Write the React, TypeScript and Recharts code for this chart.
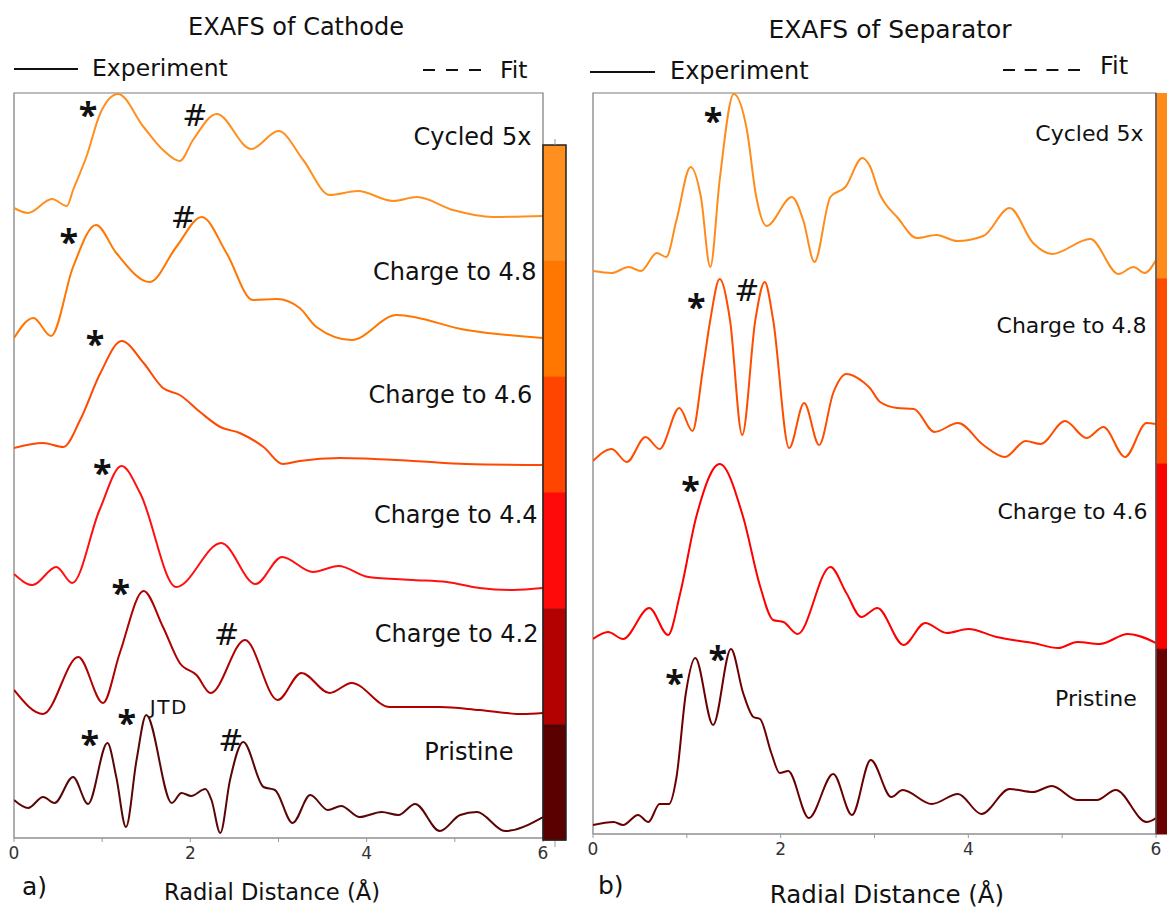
import React from 'react';
import { LineChart, Line, XAxis, YAxis, ReferenceArea, ReferenceDot } from 'recharts';

type Pt = [number, number];

const FONT = "'DejaVu Sans', 'Open Sans', sans-serif";
const STAR_FONT = "'Open Sans', 'DejaVu Sans', sans-serif";

// |chi(R)| curves, stacked with offsets (a.u.), R in Å
const cathodeCycled5x: Pt[] = [
  [0, 6.30], [0.16, 6.25], [0.43, 6.39], [0.60, 6.32], [0.67, 6.48], [0.82, 6.81], [0.98, 7.25],
  [1.18, 7.44], [1.47, 7.11], [1.69, 6.88], [1.88, 6.77], [2.03, 6.98], [2.30, 7.24], [2.69, 6.89],
  [3.00, 7.07], [3.28, 6.78], [3.58, 6.43], [3.90, 6.47], [4.30, 6.37], [4.57, 6.41], [4.98, 6.28],
  [5.43, 6.21], [6.00, 6.22],
];
const cathodeCharge48: Pt[] = [
  [0, 5.00], [0.22, 5.20], [0.42, 5.02], [0.67, 5.71], [0.93, 6.13], [1.16, 5.85], [1.54, 5.56],
  [1.84, 5.91], [2.13, 6.21], [2.41, 5.85], [2.71, 5.38], [2.98, 5.39], [3.24, 5.30], [3.43, 5.11],
  [3.83, 4.98], [4.34, 5.23], [5.13, 5.08], [6.00, 5.00],
];
const cathodeCharge46: Pt[] = [
  [0, 3.90], [0.33, 3.95], [0.56, 3.91], [0.75, 4.18], [0.98, 4.65], [1.22, 4.97], [1.47, 4.75],
  [1.69, 4.50], [1.88, 4.43], [2.11, 4.26], [2.34, 4.11], [2.56, 4.05], [2.83, 3.91], [3.05, 3.74],
  [3.24, 3.77], [3.70, 3.80], [4.53, 3.77], [5.13, 3.74], [6.00, 3.73],
];
const cathodeCharge44: Pt[] = [
  [0, 2.64], [0.21, 2.53], [0.48, 2.71], [0.66, 2.55], [0.97, 3.28], [1.22, 3.72], [1.43, 3.45],
  [1.84, 2.51], [2.35, 2.95], [2.74, 2.54], [3.04, 2.81], [3.39, 2.66], [3.68, 2.72], [4.02, 2.61],
  [4.53, 2.58], [4.91, 2.56], [5.28, 2.50], [5.66, 2.48], [6.00, 2.50],
];
const cathodeCharge42: Pt[] = [
  [0, 1.48], [0.33, 1.24], [0.73, 1.81], [1.01, 1.35], [1.20, 1.85], [1.47, 2.47], [1.69, 2.11],
  [1.88, 1.75], [2.07, 1.63], [2.23, 1.45], [2.62, 1.98], [2.99, 1.38], [3.26, 1.65], [3.58, 1.45],
  [3.83, 1.55], [4.26, 1.31], [4.83, 1.31], [5.28, 1.28], [5.77, 1.24], [6.00, 1.25],
];
const cathodePristine: Pt[] = [
  [0, 0.38], [0.16, 0.30], [0.33, 0.41], [0.46, 0.35], [0.67, 0.61], [0.84, 0.34], [1.06, 0.95],
  [1.16, 0.61], [1.27, 0.11], [1.39, 0.78], [1.50, 1.23], [1.79, 0.35], [1.90, 0.45], [2.01, 0.42],
  [2.17, 0.49], [2.24, 0.38], [2.34, 0.05], [2.45, 0.58], [2.60, 0.96], [2.83, 0.51], [2.96, 0.48],
  [3.16, 0.15], [3.36, 0.43], [3.56, 0.28], [3.71, 0.32], [3.92, 0.21], [4.17, 0.26], [4.36, 0.23],
  [4.55, 0.34], [4.83, 0.07], [5.06, 0.23], [5.25, 0.26], [5.57, 0.07], [6.00, 0.21],
];

const separatorCycled5x: Pt[] = [
  [0, 5.63], [0.20, 5.61], [0.38, 5.67], [0.51, 5.63], [0.68, 5.81], [0.78, 5.77], [0.89, 6.14],
  [1.04, 6.67], [1.15, 6.37], [1.25, 5.67], [1.35, 6.54], [1.50, 7.40], [1.64, 7.04], [1.74, 6.37],
  [1.85, 6.08], [2.12, 6.37], [2.24, 6.14], [2.36, 5.72], [2.53, 6.37], [2.69, 6.47], [2.87, 6.76],
  [2.95, 6.68], [3.06, 6.39], [3.11, 6.31], [3.24, 6.17], [3.45, 5.96], [3.66, 5.99], [3.88, 5.93],
  [4.16, 5.98], [4.44, 6.26], [4.69, 5.91], [4.89, 5.80], [5.30, 5.95], [5.60, 5.60], [5.76, 5.67],
  [5.88, 5.61], [6.00, 5.74],
];
const separatorCharge48: Pt[] = [
  [0, 3.73], [0.20, 3.85], [0.36, 3.72], [0.56, 3.97], [0.71, 3.85], [0.92, 4.26], [1.06, 4.03],
  [1.17, 4.64], [1.25, 5.14], [1.35, 5.55], [1.46, 5.14], [1.59, 3.99], [1.73, 5.14], [1.83, 5.52],
  [1.92, 5.14], [2.09, 3.86], [2.25, 4.31], [2.41, 3.89], [2.56, 4.41], [2.70, 4.60], [2.88, 4.52],
  [2.95, 4.46], [3.06, 4.32], [3.24, 4.26], [3.42, 4.25], [3.64, 4.02], [3.89, 4.11], [4.16, 3.89],
  [4.39, 3.77], [4.61, 3.93], [4.77, 3.90], [5.03, 4.13], [5.26, 3.96], [5.44, 4.07], [5.67, 3.77],
  [5.90, 4.11], [6.00, 4.10],
];
const separatorCharge46: Pt[] = [
  [0, 1.95], [0.16, 2.02], [0.32, 1.95], [0.60, 2.26], [0.80, 1.99], [0.93, 2.41], [1.10, 3.17],
  [1.35, 3.70], [1.60, 3.17], [1.78, 2.48], [1.92, 2.14], [2.03, 2.12], [2.18, 2.00], [2.53, 2.67],
  [2.70, 2.41], [2.86, 2.17], [3.03, 2.26], [3.31, 1.89], [3.54, 2.11], [3.77, 2.01], [4.00, 2.05],
  [4.30, 1.97], [4.69, 1.91], [4.96, 1.86], [5.16, 1.92], [5.40, 1.90], [5.70, 2.00], [6.00, 1.91],
];
const separatorPristine: Pt[] = [
  [0, 0.09], [0.22, 0.12], [0.32, 0.09], [0.48, 0.19], [0.59, 0.12], [0.71, 0.30], [0.81, 0.30],
  [0.89, 0.57], [0.99, 1.41], [1.09, 1.76], [1.28, 1.09], [1.47, 1.85], [1.60, 1.41], [1.71, 1.17],
  [1.78, 1.15], [1.90, 0.81], [1.99, 0.61], [2.08, 0.63], [2.30, 0.16], [2.56, 0.60], [2.76, 0.19],
  [2.96, 0.74], [3.18, 0.37], [3.30, 0.44], [3.61, 0.30], [3.89, 0.40], [4.14, 0.20], [4.44, 0.45],
  [4.69, 0.42], [4.89, 0.48], [5.16, 0.34], [5.37, 0.34], [5.57, 0.44], [5.90, 0.12], [6.00, 0.16],
];

const xTicks = [0, 1, 2, 3, 4, 5, 6];

const cathodeSeries = [
  { name: 'Cycled 5x', color: '#FF8F1F', points: cathodeCycled5x },
  { name: 'Charge to 4.8', color: '#FF7600', points: cathodeCharge48 },
  { name: 'Charge to 4.6', color: '#FF4800', points: cathodeCharge46 },
  { name: 'Charge to 4.4', color: '#FF1010', points: cathodeCharge44 },
  { name: 'Charge to 4.2', color: '#B00000', points: cathodeCharge42 },
  { name: 'Pristine', color: '#5A0606', points: cathodePristine },
];
const separatorSeries = [
  { name: 'Cycled 5x', color: '#FF8C1A', points: separatorCycled5x },
  { name: 'Charge to 4.8', color: '#FF4D00', points: separatorCharge48 },
  { name: 'Charge to 4.6', color: '#FF0000', points: separatorCharge46 },
  { name: 'Pristine', color: '#6B0000', points: separatorPristine },
];

const cathodeBarColors = ['#FF9020', '#FF7700', '#FF4500', '#FF0A0A', '#B30000', '#5A0000'];
const separatorBarColors = ['#FF8C1A', '#FF4D00', '#FF0000', '#6B0000'];

// peak markers: text, R, height
const cathodeNotes: [string, number, number][] = [
  ['*', 0.84, 7.33], ['#', 2.05, 7.23], ['*', 0.62, 6.06], ['#', 1.92, 6.21], ['*', 0.92, 5.04],
  ['*', 1.00, 3.75], ['*', 1.21, 2.55], ['#', 2.41, 2.04], ['*', 0.86, 1.04], ['*', 1.28, 1.25],
  ['#', 2.46, 0.98],
];
const separatorNotes: [string, number, number][] = [
  ['*', 1.28, 7.23], ['*', 1.10, 5.37], ['#', 1.64, 5.44], ['*', 1.04, 3.54], ['*', 0.87, 1.61],
  ['*', 1.33, 1.85],
];
const cathodeTags: [string, number, number][] = [
  ['Cycled 5x', 5.20, 7.01], ['Charge to 4.8', 5.00, 5.66], ['Charge to 4.6', 4.95, 4.43],
  ['Charge to 4.4', 5.01, 3.23], ['Charge to 4.2', 5.02, 2.04], ['Pristine', 5.16, 0.86],
];
const separatorTags: [string, number, number][] = [
  ['Cycled 5x', 5.29, 7.01], ['Charge to 4.8', 5.10, 5.09], ['Charge to 4.6', 5.11, 3.23],
  ['Pristine', 5.36, 1.36],
];

const toRows = (pts: Pt[]) => pts.map(([r, v]) => ({ r, v }));

const NoteText = (props: any) => {
  const { viewBox, text, size, anchor, shift, weight, family, spacing } = props;
  const x = viewBox.x + (viewBox.width || 0) / 2;
  const y = viewBox.y + (viewBox.height || 0) / 2;
  return (
    <text x={x} y={y} dy={shift} textAnchor={anchor} dominantBaseline="central" letterSpacing={spacing || 0}
      fontSize={size} fontWeight={weight} fill="#111" fontFamily={family || FONT}>{text}</text>
  );
};

// even values labelled, odd values only get a tick mark
const AxisTick = (props: any) => {
  const { x, y, payload } = props;
  const v = payload.value as number;
  if (v % 2 !== 0) return null;
  return (
    <text x={x} y={y} dy={9} textAnchor="middle" dominantBaseline="central" fontSize={17}
      fill="#333" fontFamily={FONT}>{String(v)}</text>
  );
};

type PanelProps = {
  left: number; width: number; plotLeft: number; plotRight: number; plotTop: number; plotBottom: number;
  yMax: number; series: typeof cathodeSeries; notes: [string, number, number][]; tags: [string, number, number][];
  tagSize: number; jtd?: [number, number];
};

function Panel(p: PanelProps) {
  const H = 911;
  const axisH = 40;
  return (
    <div style={{ position: 'absolute', left: p.left, top: 0 }}>
      <LineChart width={p.width} height={H}
        margin={{ top: p.plotTop, left: p.plotLeft, right: p.width - p.plotRight, bottom: H - p.plotBottom - axisH }}>
        <XAxis type="number" dataKey="r" domain={[0, 6]} ticks={xTicks} allowDataOverflow height={axisH}
          stroke="#9a9a9a" tickSize={4} tickMargin={2} tick={<AxisTick />} />
        <YAxis type="number" domain={[0, p.yMax]} hide allowDataOverflow />
        <ReferenceArea x1={0} x2={6} y1={0} y2={p.yMax} fill="none" stroke="#7a7a7a" strokeWidth={1.2} />
        {p.series.map((s) => (
          <Line key={s.name} name={s.name} data={toRows(s.points)} dataKey="v" type="monotone"
            stroke={s.color} strokeWidth={2} dot={false} isAnimationActive={false} />
        ))}
        {p.notes.map(([t, r, v], i) => (
          <ReferenceDot key={'n' + i} x={r} y={v} r={0} fill="none" stroke="none"
            label={t === '*'
              ? <NoteText text="*" size={34} anchor="middle" shift={9} weight="bold" family={STAR_FONT} />
              : <NoteText text="#" size={30} anchor="middle" shift={0} weight="normal" />} />
        ))}
        {p.jtd && (
          <ReferenceDot x={p.jtd[0]} y={p.jtd[1]} r={0} fill="none" stroke="none"
            label={<NoteText text="JTD" size={20} anchor="start" shift={0} weight="normal" spacing={1.5} />} />
        )}
        {p.tags.map(([t, r, v]) => (
          <ReferenceDot key={t} x={r} y={v} r={0} fill="none" stroke="none"
            label={<NoteText text={t} size={p.tagSize} anchor="middle" shift={0} weight="normal" />} />
        ))}
      </LineChart>
    </div>
  );
}

function Overlay() {
  const txt = { fontFamily: FONT, fill: '#111', dominantBaseline: 'central' as const };
  const lBar = { x: 543, y: 145, w: 23, h: 695 };
  const rBar = { x: 1156, y: 93, w: 12, h: 741 };
  const lSeg = lBar.h / cathodeBarColors.length;
  const rSeg = rBar.h / separatorBarColors.length;
  return (
    <svg width={1167} height={911} style={{ position: 'absolute', left: 0, top: 0, pointerEvents: 'none' }}>
      <text x={296} y={27} textAnchor="middle" fontSize={24} {...txt}>EXAFS of Cathode</text>
      <text x={890} y={29} textAnchor="middle" fontSize={25} {...txt}>EXAFS of Separator</text>

      <line x1={14} x2={78} y1={69} y2={69} stroke="#111" strokeWidth={2} />
      <text x={92} y={68} fontSize={23.5} {...txt}>Experiment</text>
      <line x1={423} x2={481} y1={70} y2={70} stroke="#111" strokeWidth={2} strokeDasharray="12 11" />
      <text x={500} y={70} fontSize={23.5} {...txt}>Fit</text>

      <line x1={590} x2={655} y1={72} y2={72} stroke="#111" strokeWidth={2} />
      <text x={670} y={71} fontSize={24} {...txt}>Experiment</text>
      <line x1={1003} x2={1080} y1={70} y2={70} stroke="#111" strokeWidth={2} strokeDasharray="12 9.7" />
      <text x={1100} y={66} fontSize={24} {...txt}>Fit</text>

      {cathodeBarColors.map((c, i) => (
        <rect key={c} x={lBar.x} y={lBar.y + i * lSeg} width={lBar.w} height={lSeg + 0.5} fill={c} />
      ))}
      <rect x={lBar.x} y={lBar.y} width={lBar.w} height={lBar.h} fill="none" stroke="#222" strokeWidth={1.5} />
      <line x1={555} x2={555} y1={139} y2={145} stroke="#999" />
      <line x1={555} x2={555} y1={841} y2={847} stroke="#999" />

      {separatorBarColors.map((c, i) => (
        <rect key={c} x={rBar.x} y={rBar.y + i * rSeg} width={rBar.w} height={rSeg + 0.5} fill={c} />
      ))}
      <line x1={rBar.x} x2={rBar.x} y1={rBar.y} y2={rBar.y + rBar.h} stroke="#555" strokeWidth={1.5} />

      <text x={22} y={886} fontSize={25} {...txt}>a)</text>
      <text x={598} y={885} fontSize={25} {...txt}>b)</text>
      <text x={272} y={892} textAnchor="middle" fontSize={22.6} {...txt}>Radial Distance (Å)</text>
      <text x={887} y={894} textAnchor="middle" fontSize={24.5} {...txt}>Radial Distance (Å)</text>
    </svg>
  );
}

export default function App() {
  return (
    <div style={{ position: 'absolute', left: 0, top: 0, width: 1167, height: 911, background: '#fff', overflow: 'hidden' }}>
      <Panel left={0} width={580} plotLeft={14} plotRight={543} plotTop={93} plotBottom={838} yMax={7.45}
        series={cathodeSeries} notes={cathodeNotes} tags={cathodeTags} tagSize={24} jtd={[1.54, 1.31]} />
      <Panel left={580} width={587} plotLeft={13} plotRight={576} plotTop={93} plotBottom={834} yMax={7.41}
        series={separatorSeries} notes={separatorNotes} tags={separatorTags} tagSize={22} />
      <Overlay />
    </div>
  );
}
